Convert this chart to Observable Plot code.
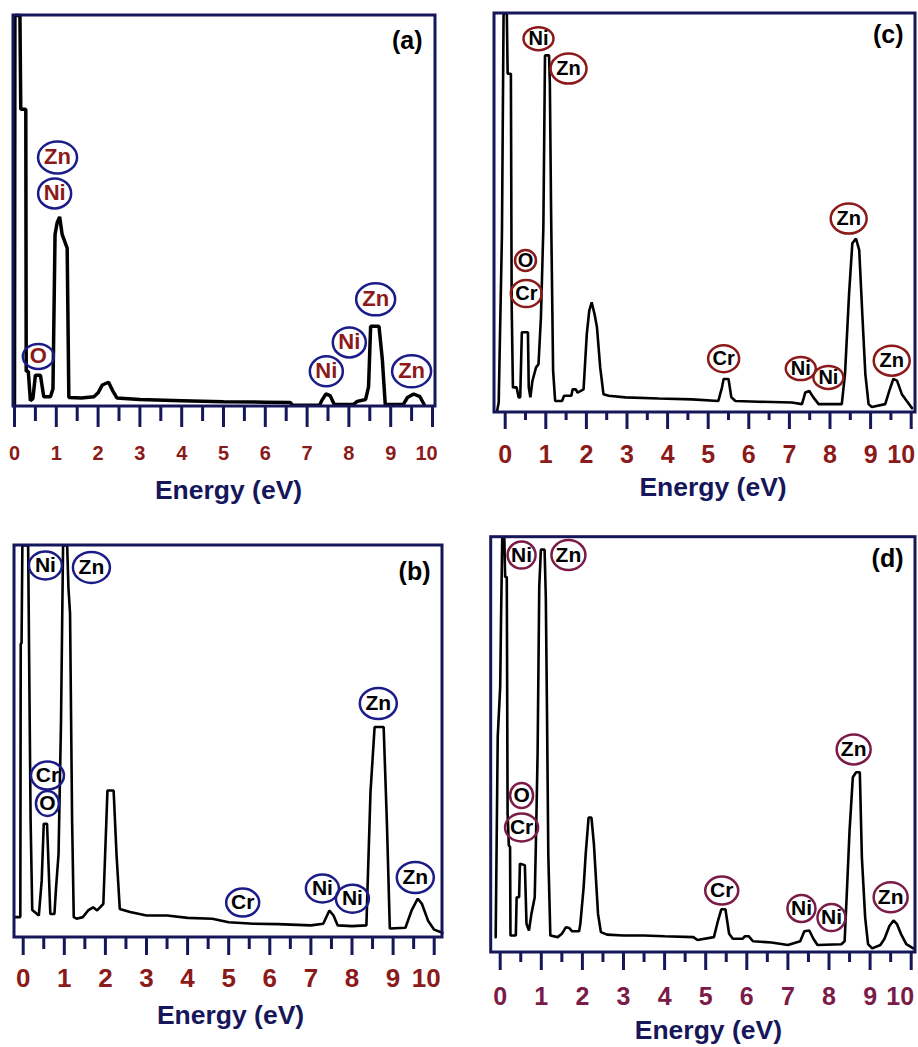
<!DOCTYPE html>
<html>
<head>
<meta charset="utf-8">
<script src="https://cdn.jsdelivr.net/npm/d3@7"></script>
<script src="https://cdn.jsdelivr.net/npm/@observablehq/plot@0.6"></script>
<style>
  html, body { margin: 0; padding: 0; background: #fff; }
  #fig { position: relative; width: 918px; height: 1047px; overflow: hidden; background: #fff; }
  .panel { position: absolute; }
</style>
</head>
<body>
<div id="fig"></div>
<script>
// ---------------- data ----------------
const majorTicks = [0, 1, 2, 3, 4, 5, 6, 7, 8, 9, 10];
const minorTicks = [0.5, 1.5, 2.5, 3.5, 4.5, 5.5, 6.5, 7.5, 8.5, 9.5];

// Panel (a)  (intensity in % of full scale; 100 = saturated at the top of the box)
const energyA = [0, 0.01, 0.13, 0.15, 0.27, 0.28, 0.33, 0.38, 0.44, 0.5, 0.62, 0.7, 0.86, 0.92, 0.97, 1.02, 1.08, 1.14, 1.26, 1.3, 1.6, 1.9, 2.0, 2.1, 2.25, 2.35, 2.45, 3.0, 4.0, 5.0, 6.0, 6.6, 6.65, 7.3, 7.35, 7.45, 7.55, 7.65, 8.1, 8.2, 8.4, 8.47, 8.52, 8.6, 8.72, 8.8, 8.87, 9.3, 9.4, 9.55, 9.7, 9.8];
const countsA = [0.5, 100, 100, 76, 76, 9, 9, 1.5, 2, 8, 8, 2.5, 2.5, 4.5, 44, 47, 48.5, 44, 40.5, 2.3, 2.2, 2.5, 3.5, 5.5, 6.2, 4, 2.2, 1.8, 1.5, 1.2, 1.1, 1.0, 0.3, 0.3, 1.5, 3.2, 2.8, 0.5, 0.5, 1.3, 1.8, 5, 20.5, 20.5, 20.5, 12, 0.5, 0.5, 2.3, 3.2, 2.5, 0.5];
const peakTextA = ["Zn", "Ni", "O", "Ni", "Ni", "Zn", "Zn"];
const peakEA = [1.03, 0.96, 0.57, 7.46, 8.01, 8.64, 9.50];
const peakIA = [63.7, 54.5, 12.8, 9.0, 16.4, 27.4, 9.0];

// Panel (b)
const energyB = [-0.21, -0.07, -0.06, -0.04, -0.02, 0.12, 0.18, 0.22, 0.38, 0.45, 0.5, 0.58, 0.66, 0.76, 0.8, 0.86, 0.92, 0.97, 1.07, 1.1, 1.14, 1.19, 1.23, 1.3, 1.45, 1.58, 1.7, 1.8, 1.95, 2.05, 2.2, 2.27, 2.35, 2.6, 3.0, 3.5, 4.0, 4.6, 5.0, 5.6, 6.2, 7.0, 7.3, 7.45, 7.55, 7.65, 8.0, 8.35, 8.45, 8.55, 8.77, 8.85, 8.92, 9.3, 9.45, 9.6, 9.7, 9.85, 10.0, 10.2];
const countsB = [5.2, 5.2, 75, 75, 100, 100, 30, 7, 5.6, 14.5, 29, 29, 6, 6, 12.8, 21.3, 55, 100, 100, 89.4, 82.6, 29.8, 5.2, 4.8, 5.2, 6.9, 7.7, 6.9, 8.6, 37.5, 37.5, 21.3, 7.3, 6.5, 5.6, 5.6, 5.0, 4.8, 3.9, 3.5, 3.4, 3.1, 3.5, 6.9, 5.6, 3.1, 2.9, 3.1, 37.1, 53.7, 53.7, 29, 2.3, 2.5, 6.9, 9.9, 8.6, 4.3, 2.0, 1.2];
const peakTextB = ["Ni", "Zn", "Cr", "O", "Zn", "Cr", "Ni", "Ni", "Zn"];
const peakEB = [0.54, 1.66, 0.59, 0.59, 8.64, 5.34, 7.28, 8.01, 9.54];
const peakIB = [94.9, 94.4, 41.3, 34.2, 59.7, 8.9, 12.5, 9.9, 15.3];

// Panel (c)
const energyC = [-0.2, -0.16, -0.08, -0.04, 0.04, 0.06, 0.14, 0.16, 0.19, 0.28, 0.33, 0.37, 0.41, 0.56, 0.58, 0.62, 0.67, 0.76, 0.82, 0.88, 0.94, 0.98, 1.08, 1.1, 1.13, 1.18, 1.23, 1.4, 1.45, 1.63, 1.66, 1.74, 1.78, 1.93, 2.01, 2.07, 2.13, 2.2, 2.26, 2.34, 2.42, 2.55, 2.96, 3.78, 4.6, 5.25, 5.34, 5.38, 5.5, 5.57, 5.67, 6.24, 7.06, 7.31, 7.39, 7.49, 7.59, 7.72, 8.29, 8.37, 8.47, 8.55, 8.64, 8.72, 8.8, 8.87, 8.95, 9.03, 9.36, 9.46, 9.56, 9.65, 9.77, 9.89, 10.02];
const countsC = [0.4, 2.5, 44.7, 100, 100, 84.9, 84.9, 26.4, 6.3, 6.3, 3.8, 3.8, 20.1, 20.1, 6.3, 3.8, 7.9, 11.3, 12.1, 23.8, 46.4, 89.5, 89.5, 82.4, 50.6, 10.5, 2.9, 2.9, 4.2, 4.2, 5.8, 5.8, 5.0, 5.8, 19.7, 25.5, 27.6, 24.7, 21.4, 11.3, 4.6, 4.2, 3.8, 3.5, 3.3, 2.9, 6.3, 8.4, 8.4, 3.8, 2.9, 2.7, 2.5, 2.1, 5.0, 5.4, 3.8, 2.1, 2.1, 9.7, 29.8, 42.4, 43.6, 40.7, 23.8, 9.7, 2.1, 1.4, 2.1, 5.4, 8.4, 8.0, 4.6, 2.9, 1.1];
const peakTextC = ["Ni", "Zn", "O", "Cr", "Cr", "Ni", "Ni", "Zn", "Zn"];
const peakEC = [0.82, 1.56, 0.50, 0.52, 5.38, 7.28, 7.96, 8.46, 9.52];
const peakIC = [93.7, 86.2, 38.1, 29.8, 13.5, 11.0, 8.8, 48.6, 13.0];

// Panel (d)
const energyD = [-0.11, -0.06, 0.0, 0.02, 0.05, 0.10, 0.12, 0.16, 0.18, 0.21, 0.24, 0.25, 0.38, 0.40, 0.46, 0.48, 0.60, 0.64, 0.70, 0.76, 0.84, 0.87, 0.91, 0.95, 0.99, 1.08, 1.11, 1.14, 1.17, 1.22, 1.40, 1.50, 1.60, 1.68, 1.75, 1.92, 1.95, 2.03, 2.08, 2.15, 2.22, 2.28, 2.38, 2.45, 2.6, 3.0, 3.5, 4.0, 4.7, 4.8, 5.2, 5.3, 5.38, 5.48, 5.57, 5.66, 5.9, 5.95, 6.05, 6.15, 6.6, 7.0, 7.3, 7.4, 7.52, 7.62, 7.72, 8.3, 8.38, 8.44, 8.5, 8.58, 8.66, 8.75, 8.8, 8.88, 8.95, 9.05, 9.25, 9.35, 9.47, 9.57, 9.65, 9.75, 9.88, 10.05];
const countsD = [3.7, 52, 64, 80, 100, 100, 90.4, 90.4, 33.4, 25.8, 25.4, 4.1, 4.1, 13.3, 13.3, 21.4, 21, 6.9, 5.3, 9.3, 13.3, 27, 47.9, 88, 97, 97, 85.5, 56.6, 23.7, 4.1, 3.7, 4.5, 6.1, 5.9, 5.1, 5.1, 6.9, 15.7, 23.7, 32.5, 32.5, 26.1, 9.3, 4.9, 4.3, 4.1, 4.1, 3.9, 3.7, 3.0, 3.7, 7.7, 10.4, 10.4, 4.5, 3.3, 3.3, 3.9, 3.9, 2.7, 2.4, 1.8, 2.7, 5.1, 5.3, 3.3, 1.8, 2.0, 2.7, 15.7, 29.3, 42.2, 43.4, 43.4, 22.9, 8.4, 2.0, 1.0, 1.8, 3.3, 6.4, 7.7, 6.9, 4.5, 2.0, 1.0];
const peakTextD = ["Ni", "Zn", "O", "Cr", "Zn", "Cr", "Ni", "Ni", "Zn"];
const peakED = [0.52, 1.66, 0.52, 0.52, 8.60, 5.39, 7.33, 8.06, 9.50];
const peakID = [95.7, 95.7, 37.8, 30.1, 48.9, 14.9, 10.6, 8.4, 13.3];

// ---------------- styling ----------------
const FONT = "'Liberation Sans', Arial, Helvetica, sans-serif";
const navy = "#16165a";
const ringNavy = "#1c1c88";
const darkRed = "#8b1a1a";
const maroon = "#7a1c47";

function ellipse(rx, ry) {
  const k = 0.5523;
  return {
    draw(ctx) {
      ctx.moveTo(rx, 0);
      ctx.bezierCurveTo(rx, k * ry, k * rx, ry, 0, ry);
      ctx.bezierCurveTo(-k * rx, ry, -rx, k * ry, -rx, 0);
      ctx.bezierCurveTo(-rx, -k * ry, -k * rx, -ry, 0, -ry);
      ctx.bezierCurveTo(k * rx, -ry, rx, -k * ry, rx, 0);
      ctx.closePath();
    }
  };
}

function panel(c) {
  // layout: box edges L,R,T,B (px inside this svg), x0 = px of E=0, k = px per eV
  const pad = 3;
  const py = (c.B - c.T) / 100;                       // px per intensity unit
  const xDomain = [(c.L - pad - c.x0) / c.k, (c.R + pad - c.x0) / c.k];
  const yDomain = [-(c.majorSize + pad) / py, 100 + pad / py];
  const boxX1 = (c.L - c.x0) / c.k, boxX2 = (c.R - c.x0) / c.k;

  const spectrum = c.energy.map((e, i) => ({E: e, I: c.counts[i]}));
  const peaks = c.peakText.map((t, i) => ({t, E: c.peakE[i], I: c.peakI[i]}));
  const rings = Object.keys(c.rings).map(k =>
    Plot.dot(peaks.filter(d => d.t === k), {
      x: "E", y: "I", r: 10, symbol: ellipse(...c.rings[k]),
      fill: "none", stroke: c.ringColor, strokeWidth: 2.5
    })
  );
  const lastTick = majorTicks[majorTicks.length - 1];
  const tickLabel = (ticks, dx) => Plot.text(ticks, {
    x: d => d, y: () => 0, lineAnchor: "top", dy: c.labelPad, dx,
    text: d => String(d), fill: c.tickColor, fontSize: c.tickFont, fontWeight: "bold", fontFamily: FONT
  });
  return Plot.plot({
    width: c.w, height: c.h,
    marginLeft: c.L - pad, marginRight: c.w - (c.R + pad),
    marginTop: c.T - pad, marginBottom: c.h - (c.B + c.majorSize + pad),
    x: {domain: xDomain, label: null, axis: null},
    y: {domain: yDomain, axis: null},
    style: {fontFamily: FONT, background: "transparent"},
    marks: [
      Plot.line(spectrum, {x: "E", y: "I", stroke: "black", strokeWidth: c.lineWidth, strokeLinejoin: "miter"}),
      Plot.rect([0], {x1: () => boxX1, x2: () => boxX2, y1: () => 0, y2: () => 100,
        fill: "none", stroke: navy, strokeWidth: 3}),
      Plot.ruleX(minorTicks, {x: d => d, y1: () => 0, y2: () => -c.minorSize / py, stroke: navy, strokeWidth: 3}),
      Plot.ruleX(majorTicks, {x: d => d, y1: () => 0, y2: () => -c.majorSize / py, stroke: navy, strokeWidth: 3}),
      tickLabel(majorTicks.filter(d => d !== lastTick), 0),
      tickLabel([lastTick], c.lastDx),
      Plot.text(["Energy (eV)"], {x: () => (boxX1 + boxX2) / 2, y: () => 0, lineAnchor: "middle",
        dy: c.titleDy, dx: c.titleDx, fontSize: 26.5, fontWeight: "bold", fill: navy, fontFamily: FONT}),
      Plot.text([c.tag], {x: () => boxX2, y: () => 100, textAnchor: "end", lineAnchor: "middle",
        dx: c.tagDx, dy: c.tagDy, fontSize: 25, fontWeight: "bold", fill: "black", fontFamily: FONT}),
      ...rings,
      Plot.text(peaks, {x: "E", y: "I", text: "t", fill: c.textColor, fontSize: c.peakFont,
        fontWeight: "bold", fontFamily: FONT})
    ]
  });
}

const configs = [
  {left: 0, top: 0, w: 459, h: 520, L: 13, R: 435, T: 15, B: 406, x0: 14, k: 41.8,
   energy: energyA, counts: countsA, peakText: peakTextA, peakE: peakEA, peakI: peakIA,
   rings: {Zn: [19.5, 16], Ni: [16.5, 15], O: [15.5, 12.5]}, ringColor: ringNavy, textColor: darkRed,
   lineWidth: 3.5, minorSize: 15, majorSize: 21, labelPad: 39, tickFont: 20, tickColor: darkRed, lastDx: -6,
   titleDy: 84, titleDx: 4, tag: "(a)", tagDx: -13, tagDy: 25, peakFont: 22},
  {left: 0, top: 520, w: 459, h: 527, L: 14, R: 442, T: 25, B: 417, x0: 22.7, k: 41.1,
   energy: energyB, counts: countsB, peakText: peakTextB, peakE: peakEB, peakI: peakIB,
   rings: {Zn: [18.5, 15.5], Ni: [16.5, 14], Cr: [16.5, 14], O: [11.5, 12.5]}, ringColor: ringNavy, textColor: "black",
   lineWidth: 2.6, minorSize: 12, majorSize: 18, labelPad: 31, tickFont: 26, tickColor: darkRed, lastDx: -8,
   titleDy: 78, titleDx: 2, tag: "(b)", tagDx: -12, tagDy: 26, peakFont: 21},
  {left: 459, top: 0, w: 459, h: 520, L: 35, R: 456, T: 13, B: 412, x0: 45.7, k: 40.6,
   energy: energyC, counts: countsC, peakText: peakTextC, peakE: peakEC, peakI: peakIC,
   rings: {Zn: [18, 15], Ni: [15, 11.5], Cr: [15.5, 13.5], O: [10.5, 10.5]}, ringColor: darkRed, textColor: "black",
   lineWidth: 2.6, minorSize: 8, majorSize: 17, labelPad: 33, tickFont: 25, tickColor: darkRed, lastDx: -10,
   titleDy: 75, titleDx: 8, tag: "(c)", tagDx: -12, tagDy: 21, peakFont: 20},
  {left: 459, top: 520, w: 459, h: 527, L: 31.7, R: 456, T: 16.7, B: 432, x0: 40.7, k: 41.1,
   energy: energyD, counts: countsD, peakText: peakTextD, peakE: peakED, peakI: peakID,
   rings: {Zn: [17, 15], Ni: [14, 13.5], Cr: [16.5, 14], O: [11.5, 12.5]}, ringColor: maroon, textColor: "black",
   lineWidth: 2.6, minorSize: 10, majorSize: 18, labelPad: 35, tickFont: 25, tickColor: maroon, lastDx: -11,
   titleDy: 78, titleDx: 5, tag: "(d)", tagDx: -12, tagDy: 22, peakFont: 21}
];

const fig = document.getElementById("fig");
for (const c of configs) {
  const holder = document.createElement("div");
  holder.className = "panel";
  holder.style.left = c.left + "px";
  holder.style.top = c.top + "px";
  holder.style.width = c.w + "px";
  holder.style.height = c.h + "px";
  holder.appendChild(panel(c));
  fig.appendChild(holder);
}
</script>
</body>
</html>
